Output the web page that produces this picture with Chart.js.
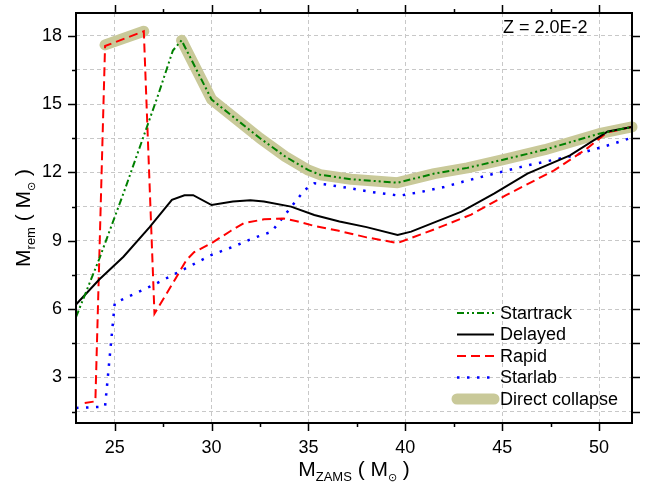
<!DOCTYPE html>
<html>
<head>
<meta charset="utf-8">
<script src="https://cdn.jsdelivr.net/npm/chart.js@4.4.0/dist/chart.umd.min.js"></script>
<style>
    html, body { margin: 0; padding: 0; background: #fff; }
    #remnantChart { display: block; }
</style>
</head>
<body>
<canvas id="remnantChart" width="646" height="492"></canvas>
<script>
// Remnant mass vs ZAMS mass at Z = 0.02

const startrackX = [23.0, 24.2, 25.5, 27.2, 28.0, 28.45, 30.0, 32.5, 33.8, 35.0, 35.6, 37.2, 39.6, 41.5, 43.2, 45.0, 47.2, 50.0, 51.7];
const startrackY = [5.65, 8.2, 11.2, 15.3, 17.35, 17.8, 15.2, 13.5, 12.7, 12.1, 11.9, 11.7, 11.55, 11.95, 12.2, 12.55, 13.0, 13.7, 14.0];

const delayedX = [23.0, 24.2, 25.45, 26.8, 27.95, 28.6, 29.05, 30.0, 31.1, 32.0, 32.7, 34.1, 35.3, 36.6, 38.0, 39.6, 40.3, 42.9, 44.6, 46.3, 48.5, 50.45, 51.7];
const delayedY = [6.2, 7.3, 8.3, 9.6, 10.8, 11.0, 11.0, 10.57, 10.72, 10.78, 10.72, 10.5, 10.13, 9.85, 9.6, 9.25, 9.4, 10.28, 11.08, 11.95, 12.75, 13.8, 14.0];

const rapidX = [23.45, 24.0, 24.5, 26.5, 27.05, 27.9, 28.7, 29.1, 30.0, 31.0, 31.65, 32.7, 33.7, 34.4, 35.3, 36.5, 38.0, 39.6, 41.5, 43.4, 45.2, 47.7, 49.3, 50.4, 51.7];
const rapidY = [1.88, 1.95, 17.55, 18.2, 5.8, 7.0, 8.15, 8.5, 8.9, 9.44, 9.77, 9.94, 9.98, 9.86, 9.65, 9.45, 9.15, 8.9, 9.5, 10.15, 11.0, 12.1, 13.0, 13.75, 14.0];

const starlabX = [23.0, 24.5, 25.0, 27.0, 28.0, 30.0, 31.2, 32.1, 33.1, 34.8, 35.3, 35.8, 37.0, 38.1, 39.7, 40.9, 42.0, 43.0, 44.7, 46.4, 48.6, 49.6, 50.7, 51.7];
const starlabY = [1.66, 1.72, 6.27, 7.06, 7.5, 8.38, 8.77, 9.1, 9.4, 11.23, 11.52, 11.48, 11.33, 11.16, 10.98, 11.16, 11.36, 11.6, 11.97, 12.33, 12.72, 12.98, 13.25, 13.53];

// null in the middle breaks the line into two pieces
const directX = [24.5, 26.5, 27.5, 28.45, 30.0, 32.5, 33.8, 35.0, 35.6, 37.2, 39.6, 41.5, 43.2, 45.0, 47.2, 50.0, 51.7];
const directY = [17.6, 18.2, null, 17.8, 15.2, 13.5, 12.7, 12.1, 11.9, 11.7, 11.55, 11.95, 12.2, 12.55, 13.0, 13.7, 14.0];

const xMajorTicks = [25, 30, 35, 40, 45, 50];
const xMinorTicks = [27.5, 32.5, 37.5, 42.5, 47.5];
const yMajorTicks = [3, 6, 9, 12, 15, 18];
const yMinorTicks = [1.5, 4.5, 7.5, 10.5, 13.5, 16.5];

const metallicityLabel = 'Z = 2.0E-2';

const FONT = '"Liberation Sans", Arial, sans-serif';

function toPoints(xs, ys) {
    return xs.map((x, i) => ({ x: x, y: ys[i] }));
}

function allTicks(major, minor) {
    return major.concat(minor).sort((a, b) => a - b).map(v => ({ value: v }));
}

// draws text pieces one after another, some of them as subscripts
function drawPieces(ctx, pieces, cx, baseline) {
    let total = 0;
    pieces.forEach(p => {
        ctx.font = p.size + 'px ' + FONT;
        p.w = ctx.measureText(p.t).width;
        total += p.w;
    });
    let x = cx - total / 2;
    pieces.forEach(p => {
        ctx.font = p.size + 'px ' + FONT;
        ctx.fillText(p.t, x, baseline + (p.dy || 0));
        x += p.w;
    });
}

const frameAndText = {
    id: 'frameAndText',
    afterDatasetsDraw(chart) {
        const { ctx, chartArea: a } = chart;
        const xs = chart.scales.x;
        const ys = chart.scales.y;
        ctx.save();
        ctx.strokeStyle = '#000';
        ctx.lineWidth = 1.5;
        ctx.beginPath();
        xMajorTicks.concat(xMinorTicks).forEach(v => {
            const px = Math.round(xs.getPixelForValue(v)) + 0.5;
            const len = xMajorTicks.includes(v) ? 8 : 4;
            ctx.moveTo(px, a.bottom); ctx.lineTo(px, a.bottom + len);
            ctx.moveTo(px, a.top); ctx.lineTo(px, a.top - len);
        });
        yMajorTicks.concat(yMinorTicks).forEach(v => {
            const py = Math.round(ys.getPixelForValue(v)) + 0.5;
            const len = yMajorTicks.includes(v) ? 8 : 4;
            ctx.moveTo(a.left, py); ctx.lineTo(a.left - len, py);
            ctx.moveTo(a.right, py); ctx.lineTo(a.right + 8, py);
        });
        ctx.stroke();
        ctx.lineWidth = 2;
        ctx.strokeRect(a.left, a.top, a.right - a.left, a.bottom - a.top);
        ctx.restore();
    },
    afterDraw(chart) {
        const { ctx, chartArea: a } = chart;
        ctx.save();
        ctx.fillStyle = '#000';
        ctx.textBaseline = 'alphabetic';
        ctx.textAlign = 'left';

        // x title
        drawPieces(ctx, [
            { t: 'M', size: 21 },
            { t: 'ZAMS', size: 13, dy: 5 },
            { t: ' ( M', size: 21 },
            { t: '\u2299', size: 11, dy: 5 },
            { t: ' )', size: 21 }
        ], (a.left + a.right) / 2, 476);

        // y title, rotated
        ctx.save();
        ctx.translate(30, (a.top + a.bottom) / 2);
        ctx.rotate(-Math.PI / 2);
        drawPieces(ctx, [
            { t: 'M', size: 21 },
            { t: 'rem', size: 13, dy: 5 },
            { t: ' ( M', size: 21 },
            { t: '\u2299', size: 11, dy: 5 },
            { t: ' )', size: 21 }
        ], 0, 0);
        ctx.restore();

        // metallicity note
        ctx.font = '18px ' + FONT;
        ctx.textBaseline = 'middle';
        ctx.fillText(metallicityLabel, a.right - 129, a.top + 15);

        // legend in the lower right corner
        chart.data.datasets.forEach((ds, i) => {
            const y = a.bottom - 110 + i * 21.5;
            const x0 = a.right - 175;
            const x1 = a.right - 138;
            ctx.save();
            ctx.strokeStyle = ds.borderColor;
            ctx.lineWidth = ds.borderWidth;
            ctx.lineCap = ds.borderCapStyle || 'butt';
            ctx.setLineDash(ds.borderDash || []);
            ctx.beginPath();
            ctx.moveTo(x0, y);
            ctx.lineTo(x1, y);
            ctx.stroke();
            ctx.restore();
            ctx.fillText(ds.label, a.right - 132, y + 1);
        });
        ctx.restore();
    }
};

const chartCtx = document.getElementById('remnantChart');

new Chart(chartCtx, {
    type: 'line',
    data: {
        datasets: [
            {
                label: 'Startrack',
                data: toPoints(startrackX, startrackY),
                borderColor: '#008000',
                borderWidth: 2,
                borderDash: [7, 3, 2, 3, 2, 3]
            },
            {
                label: 'Delayed',
                data: toPoints(delayedX, delayedY),
                borderColor: '#000000',
                borderWidth: 2
            },
            {
                label: 'Rapid',
                data: toPoints(rapidX, rapidY),
                borderColor: '#ff0000',
                borderWidth: 2,
                borderDash: [9, 5]
            },
            {
                label: 'Starlab',
                data: toPoints(starlabX, starlabY),
                borderColor: '#0000ff',
                borderWidth: 2.5,
                borderDash: [2.5, 7.5]
            },
            {
                label: 'Direct collapse',
                data: toPoints(directX, directY),
                borderColor: 'rgb(201, 201, 153)',
                borderWidth: 11,
                borderCapStyle: 'round',
                borderJoinStyle: 'round',
                clip: 10
            }
        ]
    },
    options: {
        responsive: false,
        animation: false,
        devicePixelRatio: 1,
        parsing: false,
        spanGaps: false,
        elements: {
            point: { radius: 0, hoverRadius: 0 },
            line: { tension: 0, fill: false }
        },
        layout: { padding: { top: 13, right: 14, left: 0, bottom: 0 } },
        scales: {
            x: {
                type: 'linear',
                min: 23,
                max: 51.7,
                afterBuildTicks: (scale) => { scale.ticks = allTicks(xMajorTicks, xMinorTicks); },
                afterFit: (scale) => {
                    scale.height = 69;
                    scale.paddingLeft = 0;
                    scale.paddingRight = 0;
                },
                ticks: {
                    autoSkip: false,
                    maxRotation: 0,
                    padding: 14,
                    color: '#000',
                    font: { family: FONT, size: 18 },
                    callback: (v) => xMajorTicks.includes(v) ? String(v) : ''
                },
                grid: {
                    drawTicks: false,
                    lineWidth: 1,
                    color: (c) => (c.tick && xMajorTicks.includes(c.tick.value)) ? '#c8c8c8' : 'rgba(0,0,0,0)'
                },
                border: { display: false, dash: [4, 3] }
            },
            y: {
                type: 'linear',
                min: 1,
                max: 19,
                afterBuildTicks: (scale) => { scale.ticks = allTicks(yMajorTicks, yMinorTicks); },
                afterFit: (scale) => {
                    scale.width = 76;
                    scale.paddingTop = 0;
                    scale.paddingBottom = 0;
                },
                ticks: {
                    autoSkip: false,
                    padding: 14,
                    color: '#000',
                    font: { family: FONT, size: 18 },
                    callback: (v) => yMajorTicks.includes(v) ? String(v) : ''
                },
                grid: {
                    drawTicks: false,
                    lineWidth: 1,
                    color: '#c8c8c8'
                },
                border: { display: false, dash: [4, 3] }
            }
        },
        plugins: {
            legend: { display: false },
            tooltip: { enabled: false }
        }
    },
    plugins: [frameAndText]
});
</script>
</body>
</html>
